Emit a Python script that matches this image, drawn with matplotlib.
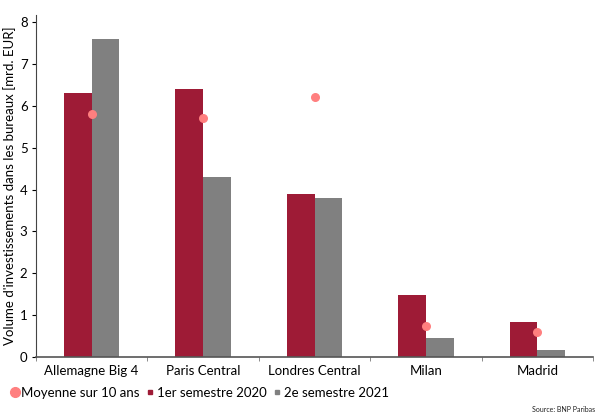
import matplotlib.pyplot as plt
from matplotlib.lines import Line2D
import numpy as np

villes = ["Allemagne Big 4", "Paris Central", "Londres Central", "Milan", "Madrid"]
s1_2020 = [6.3, 6.4, 3.9, 1.47, 0.84]
s2_2021 = [7.6, 4.3, 3.8, 0.45, 0.17]
moyenne_10 = [5.8, 5.7, 6.2, 0.75, 0.6]
yticks = [0, 1, 2, 3, 4, 5, 6, 7, 8]

ROUGE = "#9e1b36"
GRIS = "#808080"
ROSE = "#ff7f7f"

plt.rcParams["font.family"] = ["Lato", "DejaVu Sans"]

fig = plt.figure(figsize=(5.98, 4.13), dpi=100)
ax = fig.add_axes([0.060, 0.1356, 0.932, 0.828])

x = np.arange(len(villes))
w = 0.25
ax.bar(x - w / 2, s1_2020, width=w, color=ROUGE, zorder=2)
ax.bar(x + w / 2, s2_2021, width=w, color=GRIS, zorder=2)
ax.scatter(x, moyenne_10, s=30, color=ROSE, zorder=3)

ax.set_xlim(-0.5, len(villes) - 0.5)
ax.set_ylim(0, 8.17)
ax.set_yticks(yticks)
ax.set_xticks(x)
ax.set_xticklabels(villes)
ax.set_xticks(np.arange(-0.5, len(villes), 1), minor=True)
ax.tick_params(axis="x", which="major", length=0, labelsize=9.5, pad=6)
ax.tick_params(axis="x", which="minor", length=3, color="#777777")
ax.tick_params(axis="y", length=3, labelsize=9.5, pad=3)

ax.spines[["top", "right"]].set_visible(False)
ax.spines["left"].set_color("#444444")
ax.spines["bottom"].set_color("#555555")
ax.spines["bottom"].set_linewidth(1.2)

ax.set_ylabel("Volume d'investissements dans les bureaux [mrd. EUR]", fontsize=9.5, labelpad=3)

handles = [
    Line2D([], [], marker="o", linestyle="", color=ROSE, markersize=7),
    Line2D([], [], marker="s", linestyle="", color=ROUGE, markersize=3.5),
    Line2D([], [], marker="s", linestyle="", color=GRIS, markersize=3.5),
]
labels = ["Moyenne sur 10 ans", "1er semestre 2020", "2e semestre 2021"]
fig.legend(handles, labels, loc="lower left", bbox_to_anchor=(0.0, 0.015), ncol=3,
           frameon=False, fontsize=9.5, handletextpad=0.0, columnspacing=0.3,
           handlelength=1.0, borderaxespad=0.2)

fig.text(0.995, 0.0, "Source: BNP Paribas", fontsize=5, ha="right", va="bottom", color="#222222")

plt.savefig("out.png", dpi=100)
